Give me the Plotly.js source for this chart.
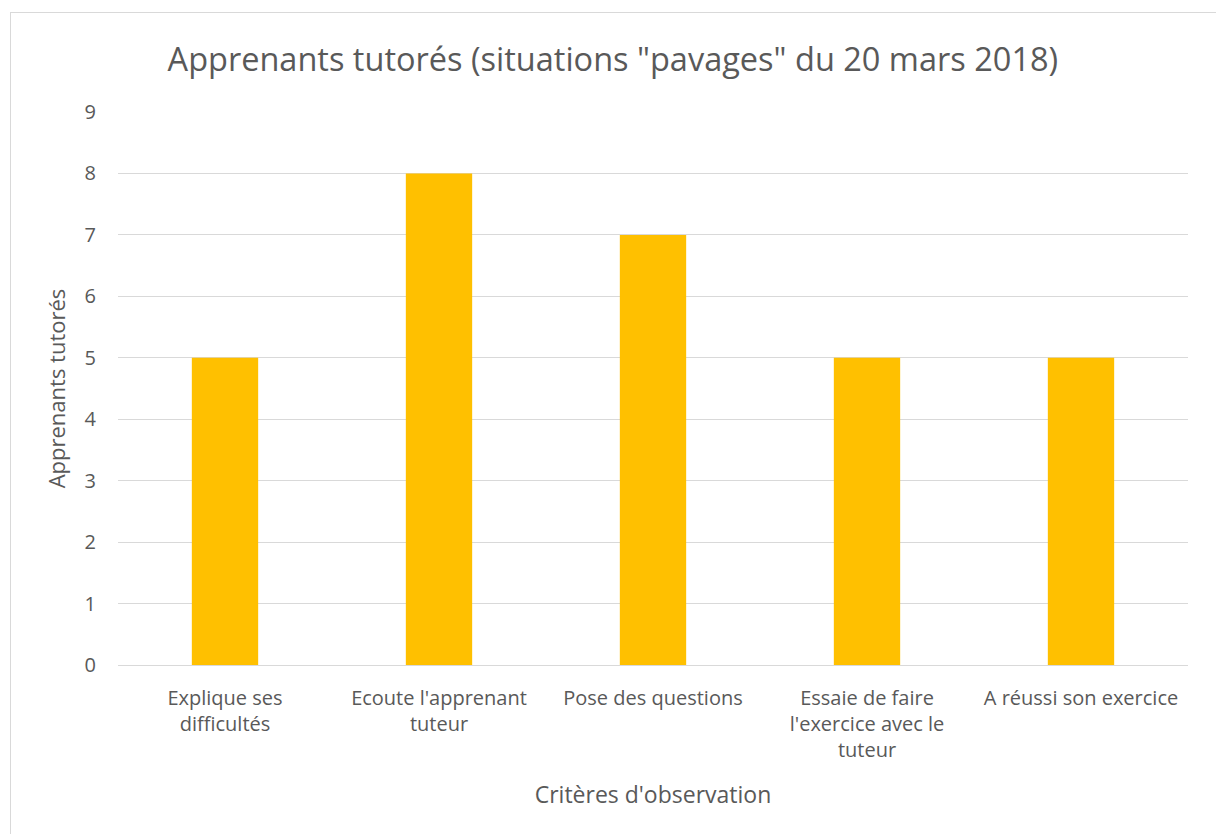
<!DOCTYPE html>
<html><head><meta charset="utf-8">
<script src="https://cdn.plot.ly/plotly-3.0.1.min.js"></script>
<style>
html,body{margin:0;padding:0;background:#fff;}
#wrap{position:relative;width:1216px;height:834px;overflow:hidden;}
#frame{position:absolute;left:10px;top:12px;width:1210px;height:840px;border:1px solid #d9d9d9;box-sizing:border-box;pointer-events:none;}
#chart{position:absolute;left:0;top:0;width:1216px;height:834px;}
</style></head>
<body><div id="wrap"><div id="chart"></div><div id="frame"></div></div>
<script>
const categories = ["Explique ses<br>difficultés", "Ecoute l'apprenant<br>tuteur", "Pose des questions", "Essaie de faire<br>l'exercice avec le<br>tuteur", "A réussi son exercice"];
const values = [5, 8, 7, 5, 5];
const yTicks = [0,1,2,3,4,5,6,7,8,9];

const font = "Open Sans, sans-serif";
const grey = "#595959";
Plotly.newPlot("chart", [{
  type: "bar", x: categories, y: values,
  marker: {color: "#FFC000"}, width: 0.31, hoverinfo: "x+y"
}], {
  width: 1216, height: 834,
  margin: {l: 118, r: 28, t: 112, b: 169},
  paper_bgcolor: "rgba(0,0,0,0)", plot_bgcolor: "#fff",
  font: {family: font, color: grey, size: 20},
  title: {text: 'Apprenants tutorés (situations "pavages" du 20 mars 2018)', font: {size: 32.5, color: grey, family: font}, x: 0.504, xanchor: "center", y: 0.928, yanchor: "middle"},
  xaxis: {type: "category", tickfont: {size: 20, color: grey}, ticks: "", showgrid: false, showline: false,
    ticklabelstandoff: 19,
    title: {text: "Critères d'observation", font: {size: 23, color: grey}, standoff: 24}},
  yaxis: {range: [0, 9], tickvals: yTicks, ticktext: yTicks.map(String), tickfont: {size: 20, color: grey},
    showgrid: true, gridcolor: "#d9d9d9", gridwidth: 1.3, zeroline: true, zerolinecolor: "#d9d9d9", zerolinewidth: 1.3,
    ticks: "", ticklabelstandoff: 21,
    title: {text: "Apprenants tutorés", font: {size: 22, color: grey}, standoff: 12}},
  showlegend: false
}, {displayModeBar: false});
</script></body></html>
